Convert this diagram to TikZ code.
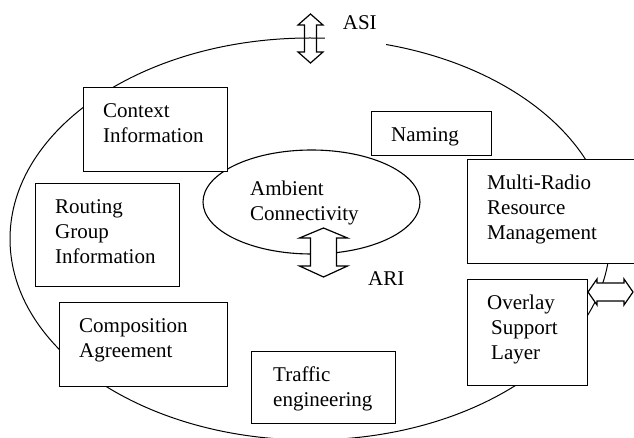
\documentclass[tikz,border=0pt]{standalone}
\usepackage{fontspec}
\setmainfont{Liberation Serif}
\usetikzlibrary{shapes.geometric}

\begin{document}
\begin{tikzpicture}[x=1pt, y=-1pt, font=\fontsize{21}{25}\selectfont,
    box/.style={draw, fill=white, line width=1.3pt, anchor=north west, inner sep=0},
    boxtext/.style={anchor=north west, align=left, inner xsep=20pt, inner ysep=16pt},
    blockarrow/.style={draw, line width=1.2pt, line join=miter}]
	\useasboundingbox (0,0) rectangle (634,438);

	% 外側の楕円
	\node[ellipse, draw, line width=1pt, minimum width=600, minimum height=402, inner sep=0] (outer) at (310,239) {};
	\node[fill=white, anchor=north west, inner ysep=3pt, inner xsep=9.5pt, text height=14pt, text depth=16pt, text width=42pt, align=right] (asi) at (325,12) {ASI};
	\draw[blockarrow] (310.5,14) -- (323,25) -- (316.5,25) -- (316.5,52) -- (323,52) -- (310.5,63)
		-- (298,52) -- (304.5,52) -- (304.5,25) -- (298,25) -- cycle;

	% 内側の楕円
	\node[ellipse, draw, line width=1.1pt, minimum width=217, minimum height=104, inner sep=0] (amb) at (311.5,202) {};
	\node[anchor=north west, align=left, inner sep=0] (ambtext) at (250,181) {Ambient\\Connectivity};
	\draw[blockarrow, fill=white] (323.5,228) -- (347.5,238) -- (336.5,238) -- (336.5,266) -- (347.5,266) -- (323.5,277)
		-- (299.5,266) -- (310.5,266) -- (310.5,238) -- (299.5,238) -- cycle;
	\node[anchor=west, inner sep=0] (ari) at (368,279) {ARI};

	% 箱
	\node[box, minimum width=144, minimum height=84] (context) at (83,87) {};
	\node[box, minimum width=120, minimum height=44] (naming) at (371,111) {};
	\node[box, minimum width=144, minimum height=103] (routing) at (35,183) {};
	\node[box, minimum width=175, minimum height=104] (multi) at (467,159) {};
	\node[box, minimum width=120, minimum height=106] (overlay) at (467,279) {};
	\node[box, minimum width=168, minimum height=84] (comp) at (59,302) {};
	\node[box, minimum width=144, minimum height=72] (traffic) at (251,351) {};

	% 文字を入れる
	\node[boxtext] at (context.north west) {Context\\Information};
	\node[boxtext] at (naming.north west) {Naming};
	\node[boxtext] at (routing.north west) {Routing\\Group\\Information};
	\node[boxtext] at (multi.north west) {Multi-Radio\\Resource\\Management};
	\node[boxtext] at (overlay.north west) {Overlay\\\hspace*{4pt}Support\\\hspace*{4pt}Layer};
	\node[boxtext] at (comp.north west) {Composition\\Agreement};
	\node[boxtext, inner xsep=22pt] at (traffic.north west) {Traffic\\engineering};

	% 横の矢印
	\draw[blockarrow, fill=white] (588,292) -- (597,279) -- (597,283) -- (624,283) -- (624,279) -- (633,292)
		-- (624,305) -- (624,301) -- (597,301) -- (597,305) -- cycle;

\end{tikzpicture}
\end{document}
